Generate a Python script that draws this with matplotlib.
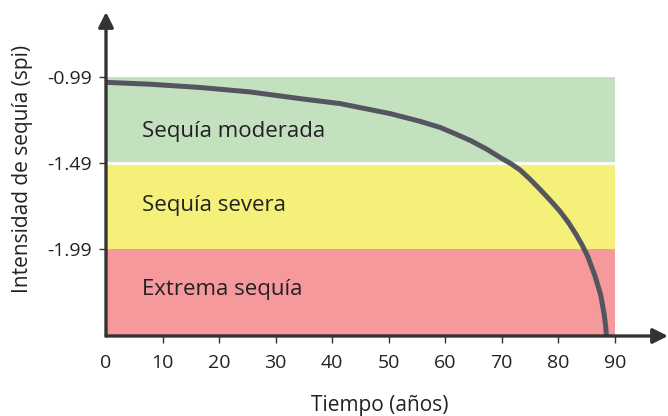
import matplotlib
matplotlib.use('Agg')
import matplotlib.pyplot as plt

# curve (years, spi)
years = [0, 0.7, 7.8, 16.6, 25.5, 34.3, 41.4, 50.2, 55.5, 59.1, 61.4, 64.5, 67.4, 69.7,
         71.5, 73.2, 75.0, 76.7, 78.5, 80.3, 81.8, 83.1, 84.2, 85.2, 86.5, 87.5, 88.1,
         88.4, 88.5]
spi = [-1.020, -1.021, -1.031, -1.050, -1.076, -1.115, -1.144, -1.202, -1.247, -1.283,
       -1.315, -1.360, -1.411, -1.458, -1.492, -1.530, -1.585, -1.642, -1.705, -1.772,
       -1.838, -1.905, -1.968, -2.035, -2.150, -2.260, -2.370, -2.450, -2.499]

band_names = ['Sequía moderada', 'Sequía severa', 'Extrema sequía']
band_tops = [-0.99, -1.49, -1.99]
band_bottoms = [-1.49, -1.99, -2.499]
band_colors = ['#c3e0bf', '#f5f07a', '#f5999d']

xticks = list(range(0, 100, 10))
yticks = [-0.99, -1.49, -1.99]

# layout: label offsets from the band middle (data units)
label_shift = [-0.065, 0.0, 0.015]

plt.rcParams['font.family'] = ['Open Sans', 'DejaVu Sans']
txt = '#222222'

fig = plt.figure(figsize=(6.68, 4.16), dpi=100)
ax = fig.add_axes([106/668, 80/416, 562/668, 324/416])
ax.set_xlim(0, 99.4)
ax.set_ylim(-2.499, -0.61)

for name, top, bot, col, dy in zip(band_names, band_tops, band_bottoms, band_colors, label_shift):
    ax.fill_between([0, 90], top, bot, color=col, lw=0, zorder=1)
    ax.text(6.4, (top + bot) / 2 + dy, name, fontsize=16, color=txt,
            va='center', ha='left', zorder=3)
ax.plot([0, 90], [band_bottoms[0]] * 2, color='white', lw=2, zorder=2)

ax.plot(years, spi, color='#55555f', lw=3.6, solid_capstyle='butt',
        solid_joinstyle='round', zorder=4)

for s in ax.spines.values():
    s.set_visible(False)
arrow = dict(arrowstyle='-|>,head_length=0.9,head_width=0.45', color='#333333', lw=2.4,
             shrinkA=0, shrinkB=0)
ax.annotate('', xy=(1, 0), xytext=(0, 0), xycoords='axes fraction', arrowprops=arrow, zorder=5)
ax.annotate('', xy=(0, 1), xytext=(0, 0), xycoords='axes fraction', arrowprops=arrow, zorder=5)

ax.set_xticks(xticks)
ax.set_xticklabels([str(t) for t in xticks])
ax.set_yticks(yticks)
ax.set_yticklabels([f'{t:.2f}' for t in yticks])
ax.tick_params(axis='both', length=5, width=1, color='#333333', labelsize=14,
               labelcolor=txt)
ax.tick_params(axis='x', pad=8)
ax.tick_params(axis='y', pad=5)
ax.xaxis.get_major_ticks()[0].tick1line.set_visible(False)

ax.set_xlabel('Tiempo (años)', fontsize=15, color=txt, va='center')
ax.xaxis.set_label_coords(0.4875, -0.213)
ax.set_ylabel('Intensidad de sequía (spi)', fontsize=15, color=txt, va='center')
ax.yaxis.set_label_coords(-0.149, 0.515)

fig.savefig('out.png', dpi=100)
